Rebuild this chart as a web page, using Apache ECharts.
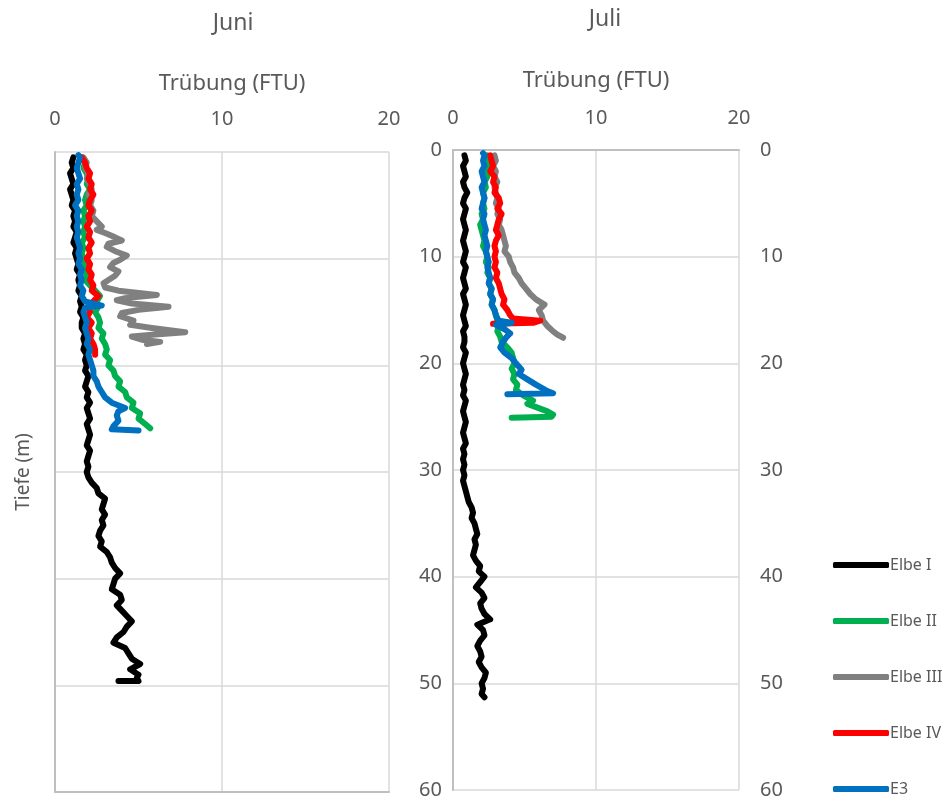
<!DOCTYPE html>
<html>
<head>
<meta charset="utf-8">
<script src="https://cdn.jsdelivr.net/npm/echarts@6/dist/echarts.min.js"></script>
<style>
html,body{margin:0;padding:0;background:#fff;}
#chart{width:950px;height:802px;}
</style>
</head>
<body>
<div id="chart"></div>
<script>
// ---------- DATA ----------
const seriesNames = ['Elbe I', 'Elbe II', 'Elbe III', 'Elbe IV', 'E3'];
const xTicks = [0, 10, 20];
const yTicks = [0, 10, 20, 30, 40, 50, 60];

// Juni
const juniElbeIDepth = [0.5,1,1.5,2,2.5,3,3.5,4,4.5,5,5.5,6,6.5,7,7.5,8,8.5,9,9.5,10,10.5,11,11.5,12,12.5,13,13.5,14,14.5,15,15.5,16,16.5,17,17.5,18,18.5,19,19.5,20,20.5,21,21.5,22,22.5,23,23.5,24,24.5,25,25.5,26,26.5,27,27.5,28,28.5,29,29.5,30,30.5,31,31.5,32,32.5,33,33.5,34,34.5,35,35.5,36,36.5,37,37.5,38,38.5,39,39.5,40,40.5,41,41.5,42,42.5,43,43.5,44,44.5,45,45.5,46,46.5,47,47.5,48,48.5,49,49.3,49.6,49.6];
const juniElbeIVal   = [1.1,1.0,1.1,0.9,1.0,1.1,0.9,1.0,1.1,1.0,1.2,1.1,1.2,1.1,1.3,1.2,1.1,1.3,1.2,1.3,1.4,1.3,1.5,1.4,1.5,1.4,1.6,1.5,1.6,1.5,1.7,1.6,1.6,1.8,1.7,1.8,1.7,1.9,1.8,1.9,1.8,2.0,1.9,1.8,2.0,1.9,2.1,1.9,2.0,2.1,1.9,2.0,2.1,2.0,1.9,2.1,2.0,1.9,2.0,1.9,2.0,2.2,2.5,2.6,3.0,2.9,2.8,3.0,2.8,2.9,2.7,2.6,2.8,2.7,3.1,3.3,3.4,3.6,3.9,3.6,3.5,3.4,3.9,4.0,3.7,4.0,4.3,4.6,4.3,4.1,3.7,3.5,4.2,4.4,4.6,5.1,4.5,5.0,4.9,5.0,3.8];

const juniElbeIIDepth = [0.5,1,1.5,2,2.5,3,3.5,4,4.5,5,5.5,6,6.5,7,7.5,8,8.5,9,9.5,10,10.5,11,11.5,12,12.5,13,13.5,14,14.5,15,15.5,16,16.5,17,17.5,18,18.5,19,19.5,20,20.5,21,21.5,22,22.5,23,23.5,24,24.5,25,25.5,25.9];
const juniElbeIIVal   = [1.6,1.8,1.7,1.9,2.0,1.9,2.1,1.9,1.8,1.9,1.7,1.8,1.7,1.8,1.7,1.8,1.6,1.7,1.6,1.7,1.8,1.7,1.9,1.8,2.1,2.4,2.7,2.5,2.6,2.4,2.6,2.7,2.6,2.9,2.8,3.0,3.1,3.0,3.3,3.2,3.5,3.6,3.9,3.8,4.2,4.3,4.7,4.6,5.1,5.0,5.4,5.7];

const juniElbeIIIDepth = [0.5,1,1.5,2,2.5,3,3.5,4,4.5,5,5.5,6,6.5,7,7.3,7.6,8.0,8.3,8.6,8.9,9.3,9.7,10.1,10.4,10.8,11.2,11.6,12.0,12.3,12.7,13.0,13.4,13.7,13.9,14.2,14.5,14.8,15.1,15.4,15.8,16.2,16.5,16.9,17.1,17.3,17.6,17.8,18.0];
const juniElbeIIIVal   = [1.7,1.9,1.8,2.0,1.9,2.1,2.2,2.0,2.2,2.1,2.3,2.2,2.5,2.8,2.5,3.0,3.6,4.0,3.2,3.1,3.6,4.3,3.9,3.5,3.3,3.8,3.6,3.2,2.9,3.0,3.8,6.1,4.2,3.7,4.6,6.8,5.0,4.0,3.9,4.7,4.5,5.8,7.8,6.0,4.6,5.2,6.3,5.5];

const juniElbeIVDepth = [0.5,1,1.5,2,2.5,3,3.5,4,4.5,5,5.5,6,6.5,7,7.5,8,8.5,9,9.5,10,10.5,11,11.5,12,12.5,13,13.5,14,14.5,15,15.5,16,16.5,17,17.5,18,18.5,19];
const juniElbeIVVal   = [1.6,1.8,1.9,2.1,2.0,2.2,2.1,2.3,2.1,2.0,2.2,2.0,2.1,1.9,2.1,2.0,2.2,2.0,2.1,1.9,2.1,2.0,2.2,2.1,2.3,2.2,2.6,2.3,2.0,2.1,1.9,2.2,2.0,2.2,2.1,2.3,2.4,2.4];

const juniE3Depth = [0.3,0.5,1,1.5,2,2.5,3,3.5,4,4.5,5,5.5,6,6.5,7,7.5,8,8.5,9,9.5,10,10.5,11,11.5,12,12.5,13,13.5,14,14.4,14.6,15,15.5,16,16.5,17,17.5,18,18.5,19,19.5,20,20.5,21,21.5,22,22.5,23,23.5,24,24.3,24.7,25.2,25.7,26,26.1];
const juniE3Val   = [1.4,1.5,1.4,1.3,1.4,1.5,1.3,1.4,1.3,1.4,1.2,1.4,1.3,1.4,1.3,1.4,1.3,1.4,1.5,1.4,1.5,1.4,1.6,1.5,1.6,1.5,1.7,1.6,1.8,2.8,1.8,1.7,1.8,1.9,1.8,1.9,2.0,1.9,2.1,2.0,2.1,2.2,2.3,2.3,2.5,2.6,2.8,3.0,3.4,4.2,3.8,3.7,3.8,3.5,3.4,5.0];

// Juli
const juliElbeIDepth = [0.5,1,1.5,2,2.5,3,3.5,4,4.5,5,5.5,6,6.5,7,7.5,8,8.5,9,9.5,10,10.5,11,11.5,12,12.5,13,13.5,14,14.5,15,15.5,16,16.5,17,17.5,18,18.5,19,19.5,20,20.5,21,21.5,22,22.5,23,23.5,24,24.5,25,25.5,26,26.5,27,27.5,28,28.5,29,29.5,30,30.5,31,31.5,32,32.5,33,33.5,34,34.5,35,35.5,36,36.5,37,37.5,38,38.5,39,39.5,40,40.5,41,41.5,42,42.5,43,43.5,44,44.5,45,45.5,46,46.5,47,47.5,48,48.5,49,49.5,50,50.5,51,51.3];
const juliElbeIVal   = [0.8,0.9,0.7,0.8,0.9,0.7,0.8,1.0,0.8,0.7,0.9,0.8,0.7,0.8,0.9,0.8,0.7,0.8,0.9,0.8,0.7,0.9,0.8,0.7,0.8,0.9,0.7,0.8,0.9,0.8,0.7,0.8,0.9,0.7,0.8,0.8,0.7,0.9,0.8,0.7,0.8,0.9,0.8,0.7,0.8,0.7,0.9,0.8,0.7,0.8,0.9,0.8,0.7,0.8,0.9,0.7,0.8,0.7,0.8,0.7,0.8,0.7,0.8,0.9,1.0,1.1,1.3,1.4,1.3,1.5,1.6,1.7,1.5,1.6,1.5,1.4,1.6,1.9,1.8,2.2,1.9,1.6,2.0,2.2,1.9,2.0,2.2,2.6,1.7,2.1,2.2,1.9,1.7,1.9,2.0,1.8,2.0,2.3,2.2,2.0,2.1,2.0,2.2];

const juliElbeIIDepth = [0.5,1,1.5,2,2.5,3,3.5,4,4.5,5,5.5,6,6.5,7,7.5,8,8.5,9,9.5,10,10.5,11,11.5,12,12.5,13,13.5,14,14.5,15,15.5,16,16.5,17,17.5,18,18.5,19,19.5,20,20.5,21,21.5,22,22.5,23,23.5,23.8,24.2,24.5,24.8,25.0,25.1];
const juliElbeIIVal   = [2.4,2.3,2.5,2.3,2.4,2.2,2.3,2.1,2.2,2.1,2.2,2.0,2.1,1.9,2.0,2.1,2.2,2.1,2.3,2.4,2.3,2.5,2.4,2.6,2.5,2.7,2.6,2.8,2.7,2.9,3.0,3.1,3.2,3.1,3.3,3.4,3.8,4.1,4.2,4.3,4.1,4.3,4.2,4.5,4.4,4.9,5.6,5.2,6.0,6.6,7.0,6.9,4.1];

const juliElbeIIIDepth = [0.5,1,1.5,2,2.5,3,3.5,4,4.5,5,5.5,6,6.5,7,7.5,8,8.5,9,9.5,10,10.5,11,11.5,12,12.5,13,13.5,14,14.5,15,15.5,16,16.5,17,17.3,17.6];
const juliElbeIIIVal   = [2.9,3.0,2.8,3.0,2.9,3.1,2.9,3.0,3.1,3.0,3.2,3.1,3.3,3.2,3.4,3.5,3.6,3.7,3.6,3.9,4.0,4.2,4.3,4.6,4.8,5.1,5.4,5.8,6.4,6.0,6.2,6.3,6.6,7.0,7.3,7.7];

const juliElbeIVDepth = [0.5,1,1.5,2,2.5,3,3.5,4,4.5,5,5.5,6,6.5,7,7.5,8,8.5,9,9.5,10,10.5,11,11.5,12,12.5,13,13.5,14,14.5,15,15.5,15.8,16.0,16.2,16.3];
const juliElbeIVVal   = [2.6,2.7,2.8,2.6,2.9,2.8,3.0,2.9,3.2,3.3,3.1,3.4,3.2,3.1,3.0,3.2,3.0,2.9,3.0,2.9,3.0,2.9,3.1,3.0,3.2,3.3,3.4,3.6,3.5,3.8,4.0,4.2,6.1,5.6,2.8];

const juliE3Depth = [0.3,0.5,1,1.5,2,2.5,3,3.5,4,4.5,5,5.5,6,6.5,7,7.5,8,8.5,9,9.5,10,10.5,11,11.5,12,12.5,13,13.5,14,14.5,15,15.5,16,16.2,16.4,16.8,17.2,17.6,18,18.5,19,19.5,20,20.6,21,21.5,22,22.3,22.6,22.8,22.9];
const juliE3Val   = [2.1,2.2,2.1,2.2,2.0,2.1,2.2,2.0,2.1,2.2,2.1,2.0,2.2,2.1,2.2,2.3,2.2,2.3,2.4,2.3,2.4,2.5,2.4,2.5,2.6,2.5,2.7,2.6,2.8,2.7,2.9,3.0,3.2,4.1,3.0,3.6,4.0,3.7,3.5,3.3,3.6,4.1,4.4,4.8,4.6,5.2,5.8,6.2,6.6,7.0,3.8];

// ---------- CHART ----------
const colors = ['#000000', '#00b050', '#808080', '#ff0000', '#0070c0'];
const FONT = 'Noto Sans';
const TXT = '#595959';

function pairs(vals, depths) { return vals.map((v, i) => [v, depths[i]]); }

const juni = [
  [juniElbeIVal, juniElbeIDepth], [juniElbeIIVal, juniElbeIIDepth], [juniElbeIIIVal, juniElbeIIIDepth],
  [juniElbeIVVal, juniElbeIVDepth], [juniE3Val, juniE3Depth]
];
const juli = [
  [juliElbeIVal, juliElbeIDepth], [juliElbeIIVal, juliElbeIIDepth], [juliElbeIIIVal, juliElbeIIIDepth],
  [juliElbeIVVal, juliElbeIVDepth], [juliE3Val, juliE3Depth]
];

const series = [];
[juni, juli].forEach((panel, p) => {
  panel.forEach((d, i) => {
    series.push({
      name: seriesNames[i], type: 'line', xAxisIndex: p, yAxisIndex: p,
      data: pairs(d[0], d[1]), showSymbol: false, symbol: 'none', smooth: false,
      color: colors[i],
      lineStyle: { width: 6, color: colors[i], cap: 'round', join: 'round' },
      animation: false, z: 2 + i
    });
  });
});

function xAx(grid, gap, margin, shift) {
  return {
    type: 'value', gridIndex: grid, position: 'top', min: xTicks[0], max: xTicks[xTicks.length - 1], interval: 10,
    name: 'Trübung (FTU)', nameLocation: 'middle', nameGap: gap,
    nameTextStyle: { color: TXT, fontSize: 22, fontFamily: FONT, padding: [0, 0, 0, shift] },
    axisLine: { show: false }, axisTick: { show: false },
    axisLabel: { color: TXT, fontSize: 20, fontFamily: FONT, margin: margin },
    splitLine: { show: true, lineStyle: { color: '#d9d9d9', width: 1.5 } }
  };
}
function bottomAx(grid) {
  return {
    type: 'value', gridIndex: grid, position: 'bottom', min: 0, max: 20,
    axisLine: { show: true, lineStyle: { color: '#bfbfbf', width: 2 } },
    axisTick: { show: false }, axisLabel: { show: false }, splitLine: { show: false }
  };
}

const option = {
  backgroundColor: '#ffffff',
  animation: false,
  textStyle: { fontFamily: FONT },
  title: [
    { text: 'Juni', left: 228, top: 7, textAlign: 'center', textStyle: { color: TXT, fontSize: 23, fontWeight: 'normal', fontFamily: FONT } },
    { text: 'Juli', left: 600, top: 3, textAlign: 'center', textStyle: { color: TXT, fontSize: 23, fontWeight: 'normal', fontFamily: FONT } }
  ],
  legend: {
    orient: 'vertical', left: 828, top: 552, itemWidth: 56, itemHeight: 6, itemGap: 40,
    icon: 'roundRect',
    data: seriesNames,
    textStyle: { color: TXT, fontSize: 16, fontFamily: FONT, lineHeight: 16, padding: [0, 0, 0, -4] }
  },
  grid: [
    { left: 55, top: 152, width: 334, height: 640 },
    { left: 453, top: 150, width: 286, height: 640 }
  ],
  xAxis: [xAx(0, 57, 23, 20), xAx(1, 58, 22, 0), bottomAx(0), bottomAx(1)],
  yAxis: [
    {
      type: 'value', gridIndex: 0, inverse: true, min: yTicks[0], max: yTicks[yTicks.length - 1], interval: 10,
      name: 'Tiefe (m)', nameLocation: 'middle', nameGap: 22, nameRotate: 90,
      nameTextStyle: { color: TXT, fontSize: 19, fontFamily: FONT },
      axisLine: { show: true, lineStyle: { color: '#bfbfbf', width: 2 } }, axisTick: { show: false },
      axisLabel: { show: false },
      splitLine: { show: true, lineStyle: { color: '#d9d9d9', width: 1.5 } }
    },
    {
      type: 'value', gridIndex: 1, inverse: true, min: yTicks[0], max: yTicks[yTicks.length - 1], interval: 10,
      axisLine: { show: true, lineStyle: { color: '#bfbfbf', width: 2 } }, axisTick: { show: false },
      axisLabel: { color: TXT, fontSize: 20, fontFamily: FONT, margin: 11 },
      splitLine: { show: true, lineStyle: { color: '#d9d9d9', width: 1.5 } }
    },
    {
      type: 'value', gridIndex: 1, position: 'right', inverse: true, min: yTicks[0], max: yTicks[yTicks.length - 1], interval: 10,
      axisLine: { show: false }, axisTick: { show: false },
      axisLabel: { color: TXT, fontSize: 20, fontFamily: FONT, margin: 21 },
      splitLine: { show: false }
    }
  ],
  series: series
};

const chart = echarts.init(document.getElementById('chart'), null, { renderer: 'canvas' });
chart.setOption(option);
</script>
</body>
</html>
